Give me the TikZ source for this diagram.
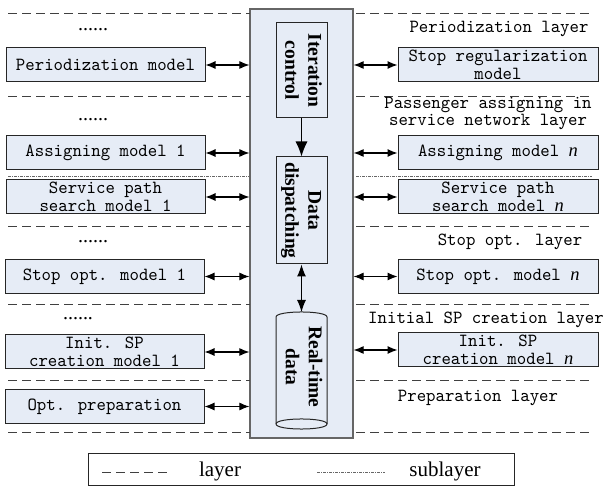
\documentclass[tikz,border=0pt]{standalone}
\usepackage{fontspec}
\setmainfont{Liberation Serif}
\newfontfamily\lblfont[FakeStretch=0.97]{lmmono10-regular.otf}
\usetikzlibrary{arrows.meta}
\definecolor{boxfill}{RGB}{230,236,246}
\newcommand{\itn}{{\rmfamily\itshape n}}
\tikzset{
  mbox/.style={draw=black!85, line width=1pt, fill=boxfill, minimum width=199pt, minimum height=34pt,
    inner sep=0pt, align=center, font=\fontsize{18.5}{18}\lblfont},
  rlabel/.style={align=center, inner sep=0pt, font=\fontsize{18.5}{17}\lblfont},
  vbox/.style={draw=black!85, line width=1pt, fill=boxfill, minimum width=51pt, inner sep=0pt,
    font=\fontsize{19.5}{23}\selectfont\bfseries},
  layerline/.style={draw=black!75, line width=0.8pt, dash pattern=on 9pt off 5pt},
  subline/.style={draw=black!60, line width=0.7pt, dash pattern=on 3pt off 1pt on 1pt off 1pt},
  dbl/.style={line width=1.1pt, {Latex[length=10pt,width=8pt]}-{Latex[length=10pt,width=8pt]}},
  dots/.style={inner sep=0pt, anchor=base, font=\fontsize{20}{24}\selectfont},
}
\begin{document}
\begin{tikzpicture}[x=1pt,y=-1pt]
\useasboundingbox (0,0) rectangle (603,486);
% central panel
\node[draw=black!60, line width=1.2pt, fill=boxfill, minimum width=103pt, minimum height=429pt, inner sep=0pt]
  (panel) at (301.5,223.5) {};
% layer lines
\foreach \yy in {13,96,226,304,380,432}{
  \draw[layerline] (8,\yy) -- (250,\yy);
  \draw[layerline] (356,\yy) -- (592,\yy);
}
\draw[subline] (8,176) -- (250,176);
\draw[subline] (356,176) -- (592,176);
% inner boxes
\node[vbox, minimum height=95pt] (ic) at (301.5,70.5)
  {\rotatebox{-90}{\begin{tabular}{@{}c@{}}Iteration\\control\end{tabular}}};
\node[vbox, minimum height=107pt] (dd) at (301.5,210.5)
  {\rotatebox{-90}{\begin{tabular}{@{}c@{}}Data\\dispatching\end{tabular}}};
% cylinder
\draw[draw=black!85, line width=1pt, fill=boxfill]
  (276,317) .. controls (276,310.3) and (327,310.3) .. (327,317) -- (327,424)
  .. controls (327,430.7) and (276,430.7) .. (276,424) -- cycle;
\draw[draw=black!85, line width=1pt] (276,424) .. controls (276,417.3) and (327,417.3) .. (327,424);
\coordinate (rttop) at (301.5,312);
\node[inner sep=0pt, font=\fontsize{19.5}{23}\selectfont\bfseries] (rt) at (302,367)
  {\rotatebox{-90}{\begin{tabular}{@{}c@{}}Real-time\\data\end{tabular}}};
\draw[line width=1.1pt, -{Latex[length=15pt,width=12pt]}] (ic.south) -- (dd.north);
\draw[line width=1.1pt, {Latex[length=12pt,width=9pt]}-{Latex[length=12pt,width=9pt]}] (dd.south) -- (rttop);
% left boxes
\node[mbox] (pm) at (105.5,65) {Periodization model};
\node[mbox] (am1) at (105.5,153) {Assigning model 1};
\node[mbox] (sp1) at (105.5,197) {Service path\\search model 1};
\node[mbox] (so1) at (104.5,276.5) {Stop opt. model 1};
\node[mbox] (is1) at (104.5,352) {Init. SP\\creation model 1};
\node[mbox] (op) at (104.5,406.5) {Opt. preparation};
% right boxes
\node[mbox, minimum width=200pt] (sr) at (498,65) {Stop regularization\\model};
\node[mbox, minimum width=200pt] (amn) at (498,153) {Assigning model \itn};
\node[mbox, minimum width=200pt] (spn) at (498,197) {Service path\\search model \itn};
\node[mbox, minimum width=200pt] (son) at (498,276.5) {Stop opt. model \itn};
\node[mbox, minimum width=200pt] (isn) at (498,350) {Init. SP\\creation model \itn};
% arrows
\foreach \n in {pm,am1,sp1,so1,is1,op}{
  \draw[dbl] (\n.east) -- (\n.east -| panel.west);
}
\foreach \n in {sr,amn,spn,son,isn}{
  \draw[dbl] (\n.west -| panel.east) -- (\n.west);
}
% dots
\node[dots] (d1) at (93,31) {......};
\node[dots] (d2) at (93,121) {......};
\node[dots] (d3) at (93,243) {......};
\node[dots] (d4) at (78,320) {......};
% layer labels
\node[rlabel] (l1) at (499,29) {Periodization layer};
\node[rlabel] (l2) at (488,113) {Passenger assigning in\\service network layer};
\node[rlabel] (l3) at (510,242) {Stop opt. layer};
\node[rlabel] (l4) at (486,320) {Initial SP creation layer};
\node[rlabel] (l5) at (478,398) {Preparation layer};
% legend
\node[draw=black!85, line width=1pt, minimum width=426pt, minimum height=32pt, inner sep=0pt] (leg) at (301,469.5) {};
\draw[layerline] (102,472) -- (167,472);
\draw[subline] (317,472) -- (385,472);
\node[font=\fontsize{21}{24}\selectfont, inner sep=0pt] (lt1) at (220,471) {layer};
\node[font=\fontsize{21}{24}\selectfont, inner sep=0pt] (lt2) at (445,471) {sublayer};
\end{tikzpicture}
\end{document}
